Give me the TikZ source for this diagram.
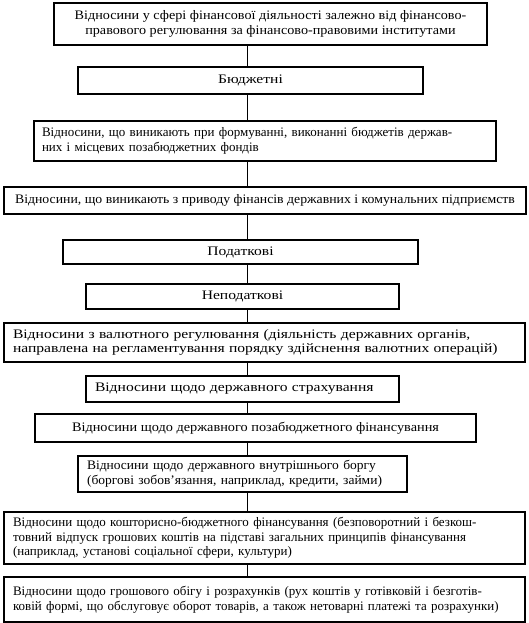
\documentclass[tikz,border=0pt]{standalone}
\usepackage{fontspec}
\setmainfont{Liberation Serif}
\begin{document}
\begin{tikzpicture}[x=1pt,y=-1pt,
  bx/.style={draw=black,line width=1.3pt,inner sep=0pt,outer sep=0pt},
  nf/.style={font=\fontsize{13}{14.6}\selectfont\addfontfeatures{FakeStretch=1.04}},
  wf/.style={font=\fontsize{13}{14.6}\selectfont\addfontfeatures{FakeStretch=1.2}},
  conn/.style={draw=black,line width=1pt}]
\useasboundingbox (0,0) rectangle (528,623);
\coordinate (spine) at (247,0);
\node[bx,nf,minimum width=433pt,minimum height=42pt,align=center,font=\fontsize{13}{14.6}\selectfont\addfontfeatures{FakeStretch=1.09}] (b1) at (270.5,24)
 {Відносини у сфері фінансової діяльності залежно від фінансово-\\правового регулювання за фінансово-правовими інститутами};
\node[bx,wf,minimum width=345pt,minimum height=27pt] (b2) at (250.5,80.5) {Бюджетні};
\node[bx,nf,minimum width=462pt,minimum height=40pt,text width=446pt,align=left,inner xsep=8pt,font=\fontsize{13}{14.6}\selectfont\addfontfeatures{FakeStretch=1.0}] (b3) at (265,141)
 {Відносини, що виникають при формуванні, виконанні бюджетів держав-\\них і місцевих позабюджетних фондів};
\node[bx,nf,minimum width=522pt,minimum height=27pt,font=\fontsize{13}{14.6}\selectfont\addfontfeatures{FakeStretch=1.06}] (b4) at (265,200.5)
 {Відносини, що виникають з приводу фінансів державних і комунальних підприємств};
\node[bx,wf,minimum width=355pt,minimum height=24pt] (b5) at (240.5,252) {Податкові};
\node[bx,wf,minimum width=313pt,minimum height=25pt] (b6) at (242.5,296.5) {Неподаткові};
\node[bx,wf,minimum width=521pt,minimum height=39pt,text width=503pt,align=left,inner xsep=9pt] (b7) at (264.5,342.5)
 {Відносини з валютного регулювання (діяльність державних органів,\\направлена на регламентування порядку здійснення валютних операцій)};
\node[bx,wf,minimum width=313pt,minimum height=26pt,text width=295pt,align=left,inner xsep=9pt] (b8) at (242.5,389)
 {Відносини щодо державного страхування};
\node[bx,nf,minimum width=441pt,minimum height=28pt,font=\fontsize{13}{14.6}\selectfont\addfontfeatures{FakeStretch=1.1}] (b9) at (255.5,428)
 {Відносини щодо державного позабюджетного фінансування};
\node[bx,nf,minimum width=329pt,minimum height=36pt,text width=311pt,align=left,inner xsep=9pt] (b10) at (242.5,474)
 {Відносини щодо державного внутрішнього боргу\\(боргові зобов’язання, наприклад, кредити, займи)};
\node[bx,nf,minimum width=521pt,minimum height=52pt,text width=503pt,align=left,inner xsep=9pt,font=\fontsize{13}{14.3}\selectfont\addfontfeatures{FakeStretch=1.0}] (b11) at (264.5,538)
 {Відносини щодо кошторисно-бюджетного фінансування (безповоротний і безкош-\\товний відпуск грошових коштів на підставі загальних принципів фінансування\\(наприклад, установі соціальної сфери, культури)};
\node[bx,nf,minimum width=521pt,minimum height=45pt,text width=503pt,align=left,inner xsep=9pt,font=\fontsize{13}{14.6}\selectfont\addfontfeatures{FakeStretch=1.0}] (b12) at (264.5,599.5)
 {Відносини щодо грошового обігу і розрахунків (рух коштів у готівковій і безготів-\\ковій формі, що обслуговує оборот товарів, а також нетоварні платежі та розрахунки)};
\foreach \a/\b in {b1/b2,b2/b3,b3/b4,b4/b5,b5/b6,b6/b7,b7/b8,b8/b9,b9/b10,b10/b11,b11/b12}
  \draw[conn] (\a.south -| spine) -- (\b.north -| spine);
\end{tikzpicture}
\end{document}
